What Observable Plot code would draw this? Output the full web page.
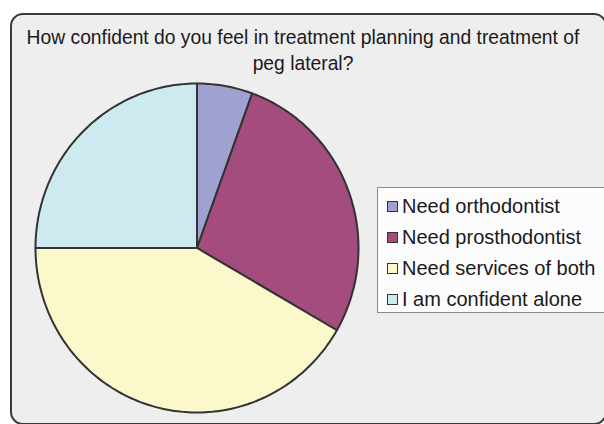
<!DOCTYPE html>
<html>
<head>
<meta charset="utf-8">
<script src="https://cdn.jsdelivr.net/npm/d3@7"></script>
<script src="https://cdn.jsdelivr.net/npm/@observablehq/plot@0.6"></script>
<style>
  html, body { margin: 0; padding: 0; background: #ffffff; }
  #wrap { position: relative; width: 604px; height: 424px; overflow: hidden; font-family: "Liberation Sans", Arial, sans-serif; }
  #frame { position: absolute; left: 10px; top: 13px; width: 597px; height: 412px; box-sizing: border-box;
           border: 2px solid #3a3a3a; border-radius: 13px; background: #eeeeee; }
  #title { position: absolute; left: 0; top: 24px; width: 606px; text-align: center; font-size: 20.5px; line-height: 25.5px; color: #1a1a1a;
           transform: scaleX(0.94); transform-origin: 303px 0; }
  #chart { position: absolute; left: 0; top: 0; }
  #legend { position: absolute; left: 377px; top: 187px; width: 240px; height: 126px; box-sizing: border-box;
            border: 1px solid #8a8a8a; background: #fcfcfc; padding-top: 3px; }
  .item { display: flex; align-items: center; height: 31px; font-size: 20px; color: #1a1a1a; padding-left: 9px; }
  .sw { width: 9px; height: 9px; border: 1.5px solid #333; margin-right: 4px; flex: none; }
</style>
</head>
<body>
<div id="wrap">
  <div id="frame"></div>
  <div id="title"></div>
  <div id="chart"></div>
  <div id="legend"></div>
</div>
<script>
const titleLines = ["How confident do you feel in treatment planning and treatment of", "peg lateral?"];
const categories = ["Need orthodontist", "Need prosthodontist", "Need services of both", "I am confident alone"];
const values = [2, 10, 15, 9];
const colors = ["#9fa1d1", "#a34c7d", "#fbf8cb", "#cdeaf1"];

document.getElementById("title").innerHTML = titleLines.join("<br>");

const pie = d3.pie().sort(null).value(d => d.value).startAngle(0).endAngle(2 * Math.PI);
const arcs = pie(categories.map((c, i) => ({category: c, value: values[i]})));

const pts = [];
for (const a of arcs) {
  const c = a.data.category;
  pts.push({category: c, x: 0, y: 0});
  const n = Math.max(2, Math.ceil((a.endAngle - a.startAngle) / (Math.PI / 180)));
  for (let k = 0; k <= n; k++) {
    const t = a.startAngle + (a.endAngle - a.startAngle) * k / n;
    pts.push({category: c, x: Math.sin(t), y: Math.cos(t)});
  }
}

const chart = Plot.plot({
  width: 604,
  height: 424,
  margin: 0,
  style: {background: "transparent", overflow: "visible"},
  x: {domain: [-1, 1], range: [35, 358], axis: null},
  y: {domain: [-1, 1], range: [412, 83], axis: null},
  color: {domain: categories, range: colors},
  marks: [
    Plot.line(pts, {x: "x", y: "y", z: "category", fill: "category", stroke: "#333333", strokeWidth: 2, curve: "linear-closed", strokeLinejoin: "round"})
  ]
});
document.getElementById("chart").appendChild(chart);

const legend = document.getElementById("legend");
categories.forEach((c, i) => {
  const item = document.createElement("div");
  item.className = "item";
  const sw = document.createElement("span");
  sw.className = "sw";
  sw.style.background = colors[i];
  const label = document.createElement("span");
  label.textContent = c;
  item.appendChild(sw);
  item.appendChild(label);
  legend.appendChild(item);
});
</script>
</body>
</html>
